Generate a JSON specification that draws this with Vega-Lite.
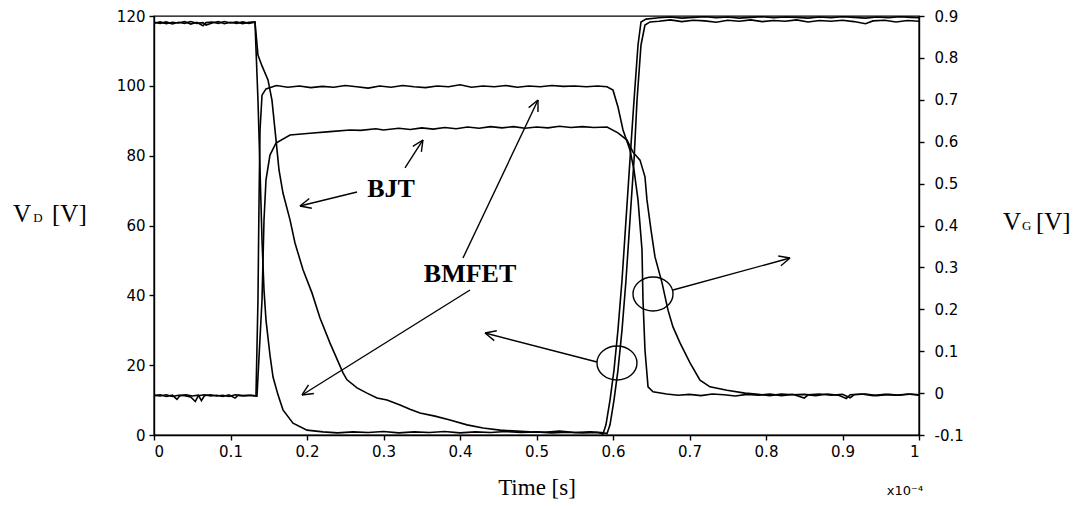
{
  "$schema": "https://vega.github.io/schema/vega-lite/v6.json",
  "width": 765,
  "height": 419,
  "autosize": "none",
  "padding": {"left": 154, "top": 16, "right": 155, "bottom": 72},
  "background": "white",
  "config": {
    "view": {"stroke": "black", "strokeWidth": 1.4},
    "axis": {"grid": false, "domainColor": "black", "tickColor": "black", "labelColor": "black", "labelFont": "DejaVu Sans", "labelFontSize": 15, "domainWidth": 1.4, "tickWidth": 1.4, "tickSize": 5}
  },
  "datasets": {
    "vd": [
      {"s": "BJT", "t": 0, "v": 117.9}, {"s": "BJT", "t": 0.008, "v": 118.3}, {"s": "BJT", "t": 0.016, "v": 117.8}, {"s": "BJT", "t": 0.024, "v": 118.2}, {"s": "BJT", "t": 0.032, "v": 118.0}, {"s": "BJT", "t": 0.04, "v": 118.4}, {"s": "BJT", "t": 0.048, "v": 117.7}, {"s": "BJT", "t": 0.056, "v": 118.2}, {"s": "BJT", "t": 0.064, "v": 117.2}, {"s": "BJT", "t": 0.068, "v": 118.1}, {"s": "BJT", "t": 0.076, "v": 118.3}, {"s": "BJT", "t": 0.084, "v": 117.9}, {"s": "BJT", "t": 0.092, "v": 118.4}, {"s": "BJT", "t": 0.1, "v": 118.0}, {"s": "BJT", "t": 0.108, "v": 118.3}, {"s": "BJT", "t": 0.116, "v": 117.8}, {"s": "BJT", "t": 0.124, "v": 118.2}, {"s": "BJT", "t": 0.132, "v": 118.3},
      {"s": "BJT", "t": 0.1359, "v": 108.8}, {"s": "BJT", "t": 0.1412, "v": 105.7}, {"s": "BJT", "t": 0.149, "v": 101.7}, {"s": "BJT", "t": 0.1542, "v": 95.9}, {"s": "BJT", "t": 0.1595, "v": 84.5}, {"s": "BJT", "t": 0.1634, "v": 75.9}, {"s": "BJT", "t": 0.1686, "v": 69.3}, {"s": "BJT", "t": 0.1778, "v": 61.6}, {"s": "BJT", "t": 0.1843, "v": 55.0}, {"s": "BJT", "t": 0.1948, "v": 47.3}, {"s": "BJT", "t": 0.2065, "v": 40.7}, {"s": "BJT", "t": 0.217, "v": 33.5}, {"s": "BJT", "t": 0.2301, "v": 26.3}, {"s": "BJT", "t": 0.2471, "v": 17.8}, {"s": "BJT", "t": 0.2523, "v": 15.8}, {"s": "BJT", "t": 0.2654, "v": 13.5}, {"s": "BJT", "t": 0.2784, "v": 12.0}, {"s": "BJT", "t": 0.2915, "v": 10.6}, {"s": "BJT", "t": 0.3046, "v": 10.0}, {"s": "BJT", "t": 0.3216, "v": 8.6}, {"s": "BJT", "t": 0.3346, "v": 7.4}, {"s": "BJT", "t": 0.3477, "v": 6.3}, {"s": "BJT", "t": 0.3673, "v": 5.4}, {"s": "BJT", "t": 0.3869, "v": 4.3}, {"s": "BJT", "t": 0.4092, "v": 2.9}, {"s": "BJT", "t": 0.4301, "v": 2.0}, {"s": "BJT", "t": 0.4523, "v": 1.4}, {"s": "BJT", "t": 0.4915, "v": 0.9}, {"s": "BJT", "t": 0.51, "v": 0.8}, {"s": "BJT", "t": 0.53, "v": 1.1}, {"s": "BJT", "t": 0.55, "v": 0.7}, {"s": "BJT", "t": 0.57, "v": 0.9}, {"s": "BJT", "t": 0.585, "v": 0.7}, {"s": "BJT", "t": 0.5922, "v": 0.4},
      {"s": "BJT", "t": 0.5961, "v": 2.9}, {"s": "BJT", "t": 0.6013, "v": 10.0}, {"s": "BJT", "t": 0.6065, "v": 18.6}, {"s": "BJT", "t": 0.6118, "v": 30.1}, {"s": "BJT", "t": 0.617, "v": 44.4}, {"s": "BJT", "t": 0.6222, "v": 61.6}, {"s": "BJT", "t": 0.6275, "v": 78.8}, {"s": "BJT", "t": 0.6314, "v": 95.9}, {"s": "BJT", "t": 0.6366, "v": 111.7}, {"s": "BJT", "t": 0.6418, "v": 117.4}, {"s": "BJT", "t": 0.6484, "v": 118.3},
      {"s": "BJT", "t": 0.66, "v": 118.5}, {"s": "BJT", "t": 0.675, "v": 118.9}, {"s": "BJT", "t": 0.69, "v": 118.4}, {"s": "BJT", "t": 0.705, "v": 118.8}, {"s": "BJT", "t": 0.72, "v": 118.6}, {"s": "BJT", "t": 0.735, "v": 118.2}, {"s": "BJT", "t": 0.75, "v": 118.8}, {"s": "BJT", "t": 0.765, "v": 118.5}, {"s": "BJT", "t": 0.78, "v": 118.9}, {"s": "BJT", "t": 0.795, "v": 118.4}, {"s": "BJT", "t": 0.81, "v": 118.7}, {"s": "BJT", "t": 0.825, "v": 118.5}, {"s": "BJT", "t": 0.84, "v": 118.9}, {"s": "BJT", "t": 0.855, "v": 118.3}, {"s": "BJT", "t": 0.87, "v": 118.7}, {"s": "BJT", "t": 0.885, "v": 118.5}, {"s": "BJT", "t": 0.9, "v": 118.8}, {"s": "BJT", "t": 0.915, "v": 118.4}, {"s": "BJT", "t": 0.93, "v": 117.8}, {"s": "BJT", "t": 0.94, "v": 118.6}, {"s": "BJT", "t": 0.955, "v": 118.8}, {"s": "BJT", "t": 0.97, "v": 118.3}, {"s": "BJT", "t": 0.985, "v": 118.7}, {"s": "BJT", "t": 1.0, "v": 118.5},
      {"s": "BMFET", "t": 0, "v": 118.2}, {"s": "BMFET", "t": 0.008, "v": 117.9}, {"s": "BMFET", "t": 0.016, "v": 118.3}, {"s": "BMFET", "t": 0.024, "v": 117.7}, {"s": "BMFET", "t": 0.032, "v": 118.2}, {"s": "BMFET", "t": 0.04, "v": 117.9}, {"s": "BMFET", "t": 0.048, "v": 118.4}, {"s": "BMFET", "t": 0.056, "v": 117.9}, {"s": "BMFET", "t": 0.064, "v": 118.1}, {"s": "BMFET", "t": 0.068, "v": 117.4}, {"s": "BMFET", "t": 0.076, "v": 118.0}, {"s": "BMFET", "t": 0.084, "v": 118.4}, {"s": "BMFET", "t": 0.092, "v": 117.8}, {"s": "BMFET", "t": 0.1, "v": 118.2}, {"s": "BMFET", "t": 0.108, "v": 117.9}, {"s": "BMFET", "t": 0.116, "v": 118.3}, {"s": "BMFET", "t": 0.124, "v": 117.9}, {"s": "BMFET", "t": 0.132, "v": 118.2},
      {"s": "BMFET", "t": 0.1359, "v": 95.9}, {"s": "BMFET", "t": 0.1386, "v": 75.9}, {"s": "BMFET", "t": 0.1412, "v": 55.8}, {"s": "BMFET", "t": 0.1438, "v": 41.5}, {"s": "BMFET", "t": 0.1464, "v": 32.9}, {"s": "BMFET", "t": 0.1516, "v": 22.9}, {"s": "BMFET", "t": 0.1556, "v": 16.6}, {"s": "BMFET", "t": 0.1621, "v": 11.5}, {"s": "BMFET", "t": 0.1686, "v": 7.2}, {"s": "BMFET", "t": 0.1817, "v": 3.4}, {"s": "BMFET", "t": 0.2, "v": 1.4}, {"s": "BMFET", "t": 0.2209, "v": 0.9},
      {"s": "BMFET", "t": 0.24, "v": 0.6}, {"s": "BMFET", "t": 0.26, "v": 0.9}, {"s": "BMFET", "t": 0.28, "v": 0.7}, {"s": "BMFET", "t": 0.3, "v": 1.0}, {"s": "BMFET", "t": 0.32, "v": 0.6}, {"s": "BMFET", "t": 0.34, "v": 0.9}, {"s": "BMFET", "t": 0.36, "v": 0.7}, {"s": "BMFET", "t": 0.38, "v": 1.0}, {"s": "BMFET", "t": 0.4, "v": 0.6}, {"s": "BMFET", "t": 0.42, "v": 0.9}, {"s": "BMFET", "t": 0.44, "v": 0.7}, {"s": "BMFET", "t": 0.46, "v": 1.0}, {"s": "BMFET", "t": 0.48, "v": 0.7}, {"s": "BMFET", "t": 0.5, "v": 0.9}, {"s": "BMFET", "t": 0.52, "v": 0.6}, {"s": "BMFET", "t": 0.54, "v": 0.8}, {"s": "BMFET", "t": 0.56, "v": 0.6}, {"s": "BMFET", "t": 0.58, "v": 0.7}, {"s": "BMFET", "t": 0.5869, "v": 0.3},
      {"s": "BMFET", "t": 0.5908, "v": 2.9}, {"s": "BMFET", "t": 0.5961, "v": 10.0}, {"s": "BMFET", "t": 0.6013, "v": 18.6}, {"s": "BMFET", "t": 0.6065, "v": 30.1}, {"s": "BMFET", "t": 0.6118, "v": 44.4}, {"s": "BMFET", "t": 0.617, "v": 61.6}, {"s": "BMFET", "t": 0.6222, "v": 78.8}, {"s": "BMFET", "t": 0.6275, "v": 95.9}, {"s": "BMFET", "t": 0.6327, "v": 111.7}, {"s": "BMFET", "t": 0.6366, "v": 118.3}, {"s": "BMFET", "t": 0.6431, "v": 119.1},
      {"s": "BMFET", "t": 0.66, "v": 119.5}, {"s": "BMFET", "t": 0.675, "v": 119.7}, {"s": "BMFET", "t": 0.69, "v": 119.4}, {"s": "BMFET", "t": 0.705, "v": 119.6}, {"s": "BMFET", "t": 0.72, "v": 119.8}, {"s": "BMFET", "t": 0.735, "v": 119.5}, {"s": "BMFET", "t": 0.75, "v": 119.7}, {"s": "BMFET", "t": 0.765, "v": 119.4}, {"s": "BMFET", "t": 0.78, "v": 119.6}, {"s": "BMFET", "t": 0.795, "v": 119.8}, {"s": "BMFET", "t": 0.81, "v": 119.5}, {"s": "BMFET", "t": 0.825, "v": 119.7}, {"s": "BMFET", "t": 0.84, "v": 119.6}, {"s": "BMFET", "t": 0.855, "v": 119.4}, {"s": "BMFET", "t": 0.87, "v": 119.7}, {"s": "BMFET", "t": 0.885, "v": 119.5}, {"s": "BMFET", "t": 0.9, "v": 119.8}, {"s": "BMFET", "t": 0.915, "v": 119.6}, {"s": "BMFET", "t": 0.93, "v": 119.4}, {"s": "BMFET", "t": 0.945, "v": 119.7}, {"s": "BMFET", "t": 0.96, "v": 119.5}, {"s": "BMFET", "t": 0.975, "v": 119.8}, {"s": "BMFET", "t": 0.99, "v": 119.6}, {"s": "BMFET", "t": 1.0, "v": 119.5}
    ],
    "vg": [
      {"s": "BJTg", "t": 0, "g": -0.006}, {"s": "BJTg", "t": 0.008, "g": -0.004}, {"s": "BJTg", "t": 0.016, "g": -0.008}, {"s": "BJTg", "t": 0.024, "g": -0.005}, {"s": "BJTg", "t": 0.03, "g": -0.015}, {"s": "BJTg", "t": 0.034, "g": -0.006}, {"s": "BJTg", "t": 0.042, "g": -0.004}, {"s": "BJTg", "t": 0.05, "g": -0.007}, {"s": "BJTg", "t": 0.058, "g": -0.005}, {"s": "BJTg", "t": 0.062, "g": -0.018}, {"s": "BJTg", "t": 0.066, "g": -0.006}, {"s": "BJTg", "t": 0.074, "g": -0.004}, {"s": "BJTg", "t": 0.082, "g": -0.007}, {"s": "BJTg", "t": 0.09, "g": -0.005}, {"s": "BJTg", "t": 0.098, "g": -0.008}, {"s": "BJTg", "t": 0.106, "g": -0.004}, {"s": "BJTg", "t": 0.114, "g": -0.006}, {"s": "BJTg", "t": 0.122, "g": -0.005}, {"s": "BJTg", "t": 0.13, "g": -0.006}, {"s": "BJTg", "t": 0.1346, "g": -0.007},
      {"s": "BJTg", "t": 0.1412, "g": 0.222}, {"s": "BJTg", "t": 0.1438, "g": 0.413}, {"s": "BJTg", "t": 0.1464, "g": 0.509}, {"s": "BJTg", "t": 0.1516, "g": 0.568}, {"s": "BJTg", "t": 0.1595, "g": 0.597}, {"s": "BJTg", "t": 0.1778, "g": 0.616}, {"s": "BJTg", "t": 0.2039, "g": 0.62}, {"s": "BJTg", "t": 0.23, "g": 0.624}, {"s": "BJTg", "t": 0.2562, "g": 0.628},
      {"s": "BJTg", "t": 0.27, "g": 0.627}, {"s": "BJTg", "t": 0.29, "g": 0.631}, {"s": "BJTg", "t": 0.3, "g": 0.628}, {"s": "BJTg", "t": 0.32, "g": 0.632}, {"s": "BJTg", "t": 0.335, "g": 0.629}, {"s": "BJTg", "t": 0.35, "g": 0.633}, {"s": "BJTg", "t": 0.365, "g": 0.63}, {"s": "BJTg", "t": 0.38, "g": 0.634}, {"s": "BJTg", "t": 0.395, "g": 0.631}, {"s": "BJTg", "t": 0.41, "g": 0.635}, {"s": "BJTg", "t": 0.425, "g": 0.632}, {"s": "BJTg", "t": 0.44, "g": 0.636}, {"s": "BJTg", "t": 0.455, "g": 0.633}, {"s": "BJTg", "t": 0.47, "g": 0.636}, {"s": "BJTg", "t": 0.485, "g": 0.632}, {"s": "BJTg", "t": 0.5, "g": 0.635}, {"s": "BJTg", "t": 0.515, "g": 0.633}, {"s": "BJTg", "t": 0.53, "g": 0.637}, {"s": "BJTg", "t": 0.545, "g": 0.634}, {"s": "BJTg", "t": 0.56, "g": 0.636}, {"s": "BJTg", "t": 0.575, "g": 0.634}, {"s": "BJTg", "t": 0.5922, "g": 0.635},
      {"s": "BJTg", "t": 0.6065, "g": 0.621}, {"s": "BJTg", "t": 0.6183, "g": 0.604}, {"s": "BJTg", "t": 0.6261, "g": 0.575}, {"s": "BJTg", "t": 0.6353, "g": 0.556}, {"s": "BJTg", "t": 0.6418, "g": 0.516}, {"s": "BJTg", "t": 0.6444, "g": 0.461}, {"s": "BJTg", "t": 0.6497, "g": 0.389}, {"s": "BJTg", "t": 0.6549, "g": 0.325}, {"s": "BJTg", "t": 0.6641, "g": 0.263}, {"s": "BJTg", "t": 0.6719, "g": 0.198}, {"s": "BJTg", "t": 0.6784, "g": 0.158}, {"s": "BJTg", "t": 0.6876, "g": 0.12}, {"s": "BJTg", "t": 0.7007, "g": 0.072}, {"s": "BJTg", "t": 0.7137, "g": 0.031}, {"s": "BJTg", "t": 0.7268, "g": 0.015}, {"s": "BJTg", "t": 0.749, "g": 0.007}, {"s": "BJTg", "t": 0.7725, "g": 0.0},
      {"s": "BJTg", "t": 0.79, "g": -0.003}, {"s": "BJTg", "t": 0.805, "g": -0.006}, {"s": "BJTg", "t": 0.82, "g": -0.002}, {"s": "BJTg", "t": 0.835, "g": -0.004}, {"s": "BJTg", "t": 0.85, "g": -0.003}, {"s": "BJTg", "t": 0.865, "g": -0.006}, {"s": "BJTg", "t": 0.88, "g": -0.002}, {"s": "BJTg", "t": 0.895, "g": -0.005}, {"s": "BJTg", "t": 0.905, "g": -0.013}, {"s": "BJTg", "t": 0.91, "g": -0.004}, {"s": "BJTg", "t": 0.925, "g": -0.002}, {"s": "BJTg", "t": 0.94, "g": -0.006}, {"s": "BJTg", "t": 0.955, "g": -0.003}, {"s": "BJTg", "t": 0.97, "g": -0.005}, {"s": "BJTg", "t": 0.985, "g": -0.002}, {"s": "BJTg", "t": 1.0, "g": -0.005},
      {"s": "BMFETg", "t": 0, "g": -0.005}, {"s": "BMFETg", "t": 0.008, "g": -0.007}, {"s": "BMFETg", "t": 0.016, "g": -0.004}, {"s": "BMFETg", "t": 0.024, "g": -0.008}, {"s": "BMFETg", "t": 0.032, "g": -0.005}, {"s": "BMFETg", "t": 0.04, "g": -0.006}, {"s": "BMFETg", "t": 0.048, "g": -0.009}, {"s": "BMFETg", "t": 0.054, "g": -0.02}, {"s": "BMFETg", "t": 0.058, "g": -0.006}, {"s": "BMFETg", "t": 0.066, "g": -0.004}, {"s": "BMFETg", "t": 0.074, "g": -0.007}, {"s": "BMFETg", "t": 0.082, "g": -0.005}, {"s": "BMFETg", "t": 0.09, "g": -0.008}, {"s": "BMFETg", "t": 0.098, "g": -0.004}, {"s": "BMFETg", "t": 0.106, "g": -0.012}, {"s": "BMFETg", "t": 0.11, "g": -0.005}, {"s": "BMFETg", "t": 0.118, "g": -0.007}, {"s": "BMFETg", "t": 0.126, "g": -0.005}, {"s": "BMFETg", "t": 0.1333, "g": -0.007},
      {"s": "BMFETg", "t": 0.1359, "g": 0.222}, {"s": "BMFETg", "t": 0.1373, "g": 0.461}, {"s": "BMFETg", "t": 0.1386, "g": 0.628}, {"s": "BMFETg", "t": 0.1412, "g": 0.711}, {"s": "BMFETg", "t": 0.1464, "g": 0.726},
      {"s": "BMFETg", "t": 0.16, "g": 0.734}, {"s": "BMFETg", "t": 0.175, "g": 0.73}, {"s": "BMFETg", "t": 0.19, "g": 0.733}, {"s": "BMFETg", "t": 0.205, "g": 0.729}, {"s": "BMFETg", "t": 0.22, "g": 0.732}, {"s": "BMFETg", "t": 0.235, "g": 0.73}, {"s": "BMFETg", "t": 0.25, "g": 0.734}, {"s": "BMFETg", "t": 0.265, "g": 0.731}, {"s": "BMFETg", "t": 0.28, "g": 0.728}, {"s": "BMFETg", "t": 0.295, "g": 0.733}, {"s": "BMFETg", "t": 0.31, "g": 0.73}, {"s": "BMFETg", "t": 0.325, "g": 0.734}, {"s": "BMFETg", "t": 0.34, "g": 0.731}, {"s": "BMFETg", "t": 0.355, "g": 0.729}, {"s": "BMFETg", "t": 0.37, "g": 0.733}, {"s": "BMFETg", "t": 0.385, "g": 0.731}, {"s": "BMFETg", "t": 0.4, "g": 0.736}, {"s": "BMFETg", "t": 0.415, "g": 0.73}, {"s": "BMFETg", "t": 0.43, "g": 0.733}, {"s": "BMFETg", "t": 0.445, "g": 0.731}, {"s": "BMFETg", "t": 0.46, "g": 0.734}, {"s": "BMFETg", "t": 0.475, "g": 0.73}, {"s": "BMFETg", "t": 0.49, "g": 0.733}, {"s": "BMFETg", "t": 0.505, "g": 0.731}, {"s": "BMFETg", "t": 0.52, "g": 0.734}, {"s": "BMFETg", "t": 0.535, "g": 0.732}, {"s": "BMFETg", "t": 0.55, "g": 0.733}, {"s": "BMFETg", "t": 0.565, "g": 0.731}, {"s": "BMFETg", "t": 0.58, "g": 0.733}, {"s": "BMFETg", "t": 0.5922, "g": 0.731},
      {"s": "BMFETg", "t": 0.6, "g": 0.723}, {"s": "BMFETg", "t": 0.6065, "g": 0.683}, {"s": "BMFETg", "t": 0.6131, "g": 0.628}, {"s": "BMFETg", "t": 0.6222, "g": 0.58}, {"s": "BMFETg", "t": 0.6275, "g": 0.532}, {"s": "BMFETg", "t": 0.6327, "g": 0.461}, {"s": "BMFETg", "t": 0.6379, "g": 0.342}, {"s": "BMFETg", "t": 0.6392, "g": 0.222}, {"s": "BMFETg", "t": 0.6418, "g": 0.103}, {"s": "BMFETg", "t": 0.6458, "g": 0.015}, {"s": "BMFETg", "t": 0.6523, "g": 0.003},
      {"s": "BMFETg", "t": 0.67, "g": -0.002}, {"s": "BMFETg", "t": 0.685, "g": -0.005}, {"s": "BMFETg", "t": 0.7, "g": -0.003}, {"s": "BMFETg", "t": 0.715, "g": -0.006}, {"s": "BMFETg", "t": 0.73, "g": -0.002}, {"s": "BMFETg", "t": 0.745, "g": -0.004}, {"s": "BMFETg", "t": 0.76, "g": -0.007}, {"s": "BMFETg", "t": 0.775, "g": -0.003}, {"s": "BMFETg", "t": 0.79, "g": -0.005}, {"s": "BMFETg", "t": 0.805, "g": -0.002}, {"s": "BMFETg", "t": 0.82, "g": -0.006}, {"s": "BMFETg", "t": 0.835, "g": -0.003}, {"s": "BMFETg", "t": 0.85, "g": -0.012}, {"s": "BMFETg", "t": 0.855, "g": -0.004}, {"s": "BMFETg", "t": 0.87, "g": -0.002}, {"s": "BMFETg", "t": 0.885, "g": -0.005}, {"s": "BMFETg", "t": 0.9, "g": -0.003}, {"s": "BMFETg", "t": 0.91, "g": -0.011}, {"s": "BMFETg", "t": 0.915, "g": -0.004}, {"s": "BMFETg", "t": 0.93, "g": -0.002}, {"s": "BMFETg", "t": 0.945, "g": -0.006}, {"s": "BMFETg", "t": 0.96, "g": -0.003}, {"s": "BMFETg", "t": 0.975, "g": -0.005}, {"s": "BMFETg", "t": 0.99, "g": -0.002}, {"s": "BMFETg", "t": 1.0, "g": -0.004}
    ],
    "arrows": [
      {"x": 0.2654, "y": 69.6, "x2": 0.1908, "y2": 65.59},
      {"x": 0.1908, "y": 65.59, "x2": 0.2063, "y2": 64.93},
      {"x": 0.1908, "y": 65.59, "x2": 0.203, "y2": 67.73},
      {"x": 0.3281, "y": 76.47, "x2": 0.3516, "y2": 84.49},
      {"x": 0.3516, "y": 84.49, "x2": 0.3383, "y2": 82.66},
      {"x": 0.3516, "y": 84.49, "x2": 0.3495, "y2": 81.08},
      {"x": 0.4039, "y": 50.69, "x2": 0.502, "y2": 95.94},
      {"x": 0.502, "y": 95.94, "x2": 0.4898, "y2": 93.77},
      {"x": 0.502, "y": 95.94, "x2": 0.5019, "y2": 92.51},
      {"x": 0.4131, "y": 41.53, "x2": 0.1935, "y2": 11.46},
      {"x": 0.1935, "y": 11.46, "x2": 0.209, "y2": 11.89},
      {"x": 0.1935, "y": 11.46, "x2": 0.202, "y2": 14.35},
      {"x": 0.5791, "y": 20.91, "x2": 0.4327, "y2": 29.21},
      {"x": 0.4327, "y": 29.21, "x2": 0.4448, "y2": 27.04},
      {"x": 0.4327, "y": 29.21, "x2": 0.4481, "y2": 29.84},
      {"x": 0.6784, "y": 41.53, "x2": 0.8314, "y2": 50.69},
      {"x": 0.8314, "y": 50.69, "x2": 0.816, "y2": 51.27},
      {"x": 0.8314, "y": 50.69, "x2": 0.8195, "y2": 48.46}
    ],
    "circles": [
      {"x": 0.6052, "y": 20.62},
      {"x": 0.6523, "y": 40.38}
    ],
    "boldtext": [
      {"label": "BJT", "x": 0.3098, "y": 68.16},
      {"label": "BMFET", "x": 0.4131, "y": 43.8}
    ],
    "sidetext": [
      {"label": "V", "x": -0.1843, "y": 61.0},
      {"label": "[V]", "x": -0.1333, "y": 61.0},
      {"label": "V", "x": 1.1098, "y": 58.7},
      {"label": "[V]", "x": 1.1529, "y": 58.7}
    ],
    "subtext": [
      {"label": "D", "x": -0.158, "y": 61.0},
      {"label": "G", "x": 1.1346, "y": 58.7}
    ],
    "exptext": [
      {"label": "x10⁻⁴", "x": 0.958, "y": -17.2}
    ]
  },
  "layer": [
    {
      "data": {"name": "vd"},
      "mark": {"type": "line", "color": "black", "strokeWidth": 1.6, "clip": true},
      "encoding": {
        "x": {"field": "t", "type": "quantitative", "scale": {"domain": [0, 1], "nice": false, "zero": false},
              "axis": {"values": [0, 0.1, 0.2, 0.3, 0.4, 0.5, 0.6, 0.7, 0.8, 0.9, 1], "labelExpr": "format(datum.value, '.1~f')", "labelPadding": 4, "title": "Time [s]", "titleFont": "Liberation Serif", "titleFontSize": 23, "titleFontWeight": "normal", "titlePadding": 17, "titleColor": "black"}},
        "y": {"field": "v", "type": "quantitative", "scale": {"domain": [0, 120], "nice": false, "zero": false},
              "axis": {"orient": "left", "values": [0, 20, 40, 60, 80, 100, 120], "labelPadding": 4, "title": null}},
        "detail": {"field": "s"},
        "order": {"field": "t"}
      }
    },
    {
      "data": {"name": "vg"},
      "mark": {"type": "line", "color": "black", "strokeWidth": 1.6, "clip": true},
      "encoding": {
        "x": {"field": "t", "type": "quantitative", "scale": {"domain": [0, 1], "nice": false, "zero": false},
              "axis": {"values": [0, 0.1, 0.2, 0.3, 0.4, 0.5, 0.6, 0.7, 0.8, 0.9, 1], "labelExpr": "format(datum.value, '.1~f')", "labelPadding": 4, "title": "Time [s]", "titleFont": "Liberation Serif", "titleFontSize": 23, "titleFontWeight": "normal", "titlePadding": 17, "titleColor": "black"}},
        "y": {"field": "g", "type": "quantitative", "scale": {"domain": [-0.1, 0.9], "nice": false, "zero": false},
              "axis": {"orient": "right", "values": [-0.1, 0, 0.1, 0.2, 0.3, 0.4, 0.5, 0.6, 0.7, 0.8, 0.9], "labelExpr": "replace(format(datum.value, '.1~f'), '−', '-')", "labelPadding": 10, "title": null}},
        "detail": {"field": "s"},
        "order": {"field": "t"}
      }
    },
    {
      "data": {"name": "arrows"},
      "mark": {"type": "rule", "color": "black", "strokeWidth": 1.4},
      "encoding": {
        "x": {"field": "x", "type": "quantitative", "scale": {"domain": [0, 1], "nice": false, "zero": false}},
        "y": {"field": "y", "type": "quantitative", "scale": {"domain": [0, 120], "nice": false, "zero": false}, "axis": null},
        "x2": {"field": "x2"},
        "y2": {"field": "y2"}
      }
    },
    {
      "data": {"name": "circles"},
      "mark": {"type": "point", "shape": "M -1 0 A 1 0.85 0 1 1 1 0 A 1 0.85 0 1 1 -1 0 Z", "size": 1600, "filled": false, "stroke": "black", "strokeWidth": 1.4, "opacity": 1},
      "encoding": {
        "x": {"field": "x", "type": "quantitative", "scale": {"domain": [0, 1], "nice": false, "zero": false}},
        "y": {"field": "y", "type": "quantitative", "scale": {"domain": [0, 120], "nice": false, "zero": false}, "axis": null}
      }
    },
    {
      "data": {"name": "boldtext"},
      "mark": {"type": "text", "font": "Liberation Serif", "fontWeight": "bold", "fontSize": 26, "align": "center", "baseline": "alphabetic", "color": "black"},
      "encoding": {
        "x": {"field": "x", "type": "quantitative", "scale": {"domain": [0, 1], "nice": false, "zero": false}},
        "y": {"field": "y", "type": "quantitative", "scale": {"domain": [0, 120], "nice": false, "zero": false}, "axis": null},
        "text": {"field": "label"}
      }
    },
    {
      "data": {"name": "sidetext"},
      "mark": {"type": "text", "font": "Liberation Serif", "fontSize": 25, "align": "left", "baseline": "alphabetic", "color": "black"},
      "encoding": {
        "x": {"field": "x", "type": "quantitative", "scale": {"domain": [0, 1], "nice": false, "zero": false}},
        "y": {"field": "y", "type": "quantitative", "scale": {"domain": [0, 120], "nice": false, "zero": false}, "axis": null},
        "text": {"field": "label"}
      }
    },
    {
      "data": {"name": "subtext"},
      "mark": {"type": "text", "font": "Liberation Serif", "fontSize": 13, "align": "left", "baseline": "alphabetic", "color": "black"},
      "encoding": {
        "x": {"field": "x", "type": "quantitative", "scale": {"domain": [0, 1], "nice": false, "zero": false}},
        "y": {"field": "y", "type": "quantitative", "scale": {"domain": [0, 120], "nice": false, "zero": false}, "axis": null},
        "text": {"field": "label"}
      }
    },
    {
      "data": {"name": "exptext"},
      "mark": {"type": "text", "font": "DejaVu Sans", "fontSize": 13, "align": "left", "baseline": "alphabetic", "color": "black"},
      "encoding": {
        "x": {"field": "x", "type": "quantitative", "scale": {"domain": [0, 1], "nice": false, "zero": false}},
        "y": {"field": "y", "type": "quantitative", "scale": {"domain": [0, 120], "nice": false, "zero": false}, "axis": null},
        "text": {"field": "label"}
      }
    }
  ],
  "resolve": {"scale": {"y": "independent"}}
}
